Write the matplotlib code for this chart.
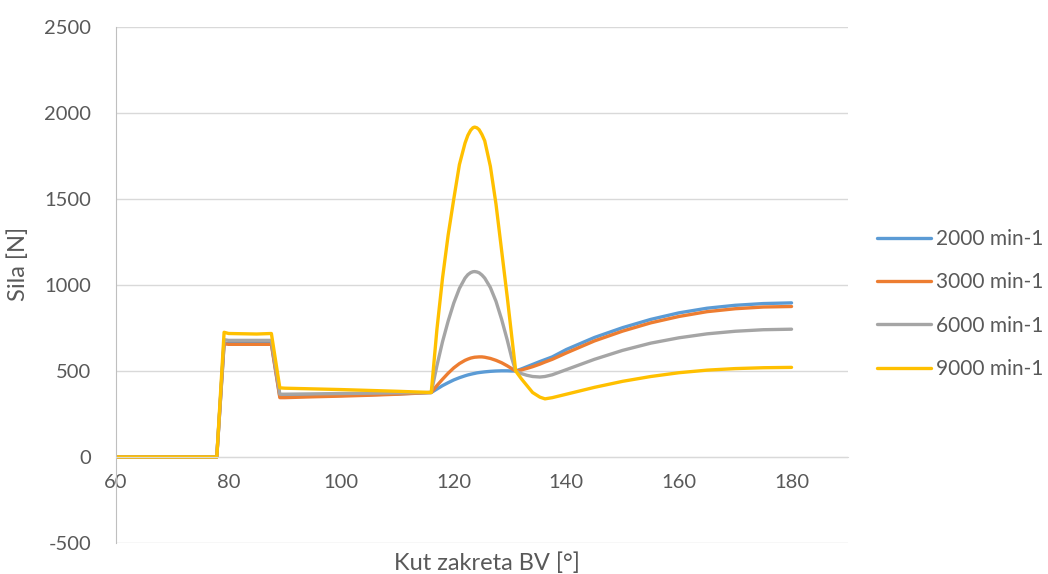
import matplotlib
matplotlib.use("Agg")
import matplotlib.pyplot as plt

# ---- data ----
angle = [60, 70, 77.9, 79.2, 80, 85, 87.6, 89.1, 90, 95, 100, 105, 110, 116,
         117, 118, 119, 120, 121, 122, 122.5, 123, 123.4, 123.7, 124.1, 124.5,
         125, 125.5, 126.5, 127.5, 128.5, 129.5, 130.3, 131, 132, 133, 134,
         135.3, 136.2, 137.5, 140, 145, 150, 155, 160, 165, 170, 175, 180]

f_2000 = [0, 0, 0, 662, 660, 660, 660, 352, 352, 355, 358, 362, 367, 375,
          395, 415, 432, 448, 461, 472, 477, 481, 484, 486, 489, 491,
          493, 495, 498, 500, 501, 501, 500, 500, 512, 525, 538,
          555, 566, 582, 625, 695, 752, 800, 838, 865, 882, 892, 896]

f_3000 = [0, 0, 0, 658, 655, 655, 655, 345, 345, 350, 354, 359, 365, 375,
          415, 452, 487, 518, 543, 562, 569, 575, 578, 580, 581, 582,
          582, 580, 573, 562, 548, 530, 514, 500, 506, 515, 525,
          540, 552, 568, 605, 675, 732, 780, 817, 845, 862, 872, 875]

f_6000 = [0, 0, 0, 682, 678, 678, 678, 365, 365, 367, 369, 371, 373, 375,
          530, 670, 790, 895, 980, 1040, 1060, 1072, 1077, 1078, 1076, 1071,
          1058, 1040, 985, 905, 800, 680, 575, 500, 485, 475, 468,
          465, 468, 478, 508, 568, 620, 662, 693, 716, 731, 740, 743]

f_9000 = [0, 0, 0, 725, 718, 715, 718, 402, 400, 396, 392, 387, 382, 375,
          740, 1040, 1290, 1500, 1700, 1825, 1870, 1900, 1914, 1918, 1914, 1903,
          1875, 1838, 1690, 1470, 1200, 930, 700, 500, 455, 415, 375,
          348, 338, 345, 365, 405, 440, 468, 490, 505, 514, 519, 521]

series = [("2000 min-1", f_2000, "#5B9BD5"),
          ("3000 min-1", f_3000, "#ED7D31"),
          ("6000 min-1", f_6000, "#A5A5A5"),
          ("9000 min-1", f_9000, "#FFC000")]

x_ticks = [60, 80, 100, 120, 140, 160, 180]
y_ticks = [-500, 0, 500, 1000, 1500, 2000, 2500]

# ---- style ----
plt.rcParams['font.family'] = ['Lato', 'DejaVu Sans']
plt.rcParams['axes.unicode_minus'] = False
txt = "#595959"
fs_tick = 14.5
fs_leg = 15
fs_title = 17

fig = plt.figure(figsize=(10.48, 5.74), dpi=100)
ax = fig.add_axes([0.1107, 0.054, 0.809 - 0.1107, 0.953 - 0.054])

for label, vals, col in series:
    ax.plot(angle, vals, color=col, lw=2.4, label=label,
            solid_joinstyle='round', solid_capstyle='round')

ax.set_xlim(60, 190)
ax.set_ylim(-500, 2500)
ax.set_xticks(x_ticks)
ax.set_yticks(y_ticks)

ax.grid(axis='y', color='#D9D9D9', lw=1)
ax.set_axisbelow(True)
for s in ['top', 'right']:
    ax.spines[s].set_visible(False)
ax.spines['left'].set_color('#BFBFBF')
ax.spines['bottom'].set_position(('data', 0))
ax.spines['bottom'].set_color('#D9D9D9')
ax.tick_params(length=0, labelsize=fs_tick, colors=txt)
ax.tick_params(axis='x', pad=12)
ax.tick_params(axis='y', pad=18)

fig.text(18 / 1048, 1 - 264 / 574, "Sila [N]", fontsize=fs_title, color=txt,
         rotation=90, ha='center', va='center')
fig.text(487 / 1048, 1 - 563 / 574, "Kut zakreta BV [°]", fontsize=fs_title,
         color=txt, ha='center', va='center')

fig.legend(loc='center left', bbox_to_anchor=(877 / 1048, 1 - 304 / 574),
           frameon=False, fontsize=fs_leg, labelcolor=txt, handlelength=2.6,
           handletextpad=0.25, labelspacing=1.12, borderpad=0,
           borderaxespad=0)

fig.savefig("out.png", dpi=100)
